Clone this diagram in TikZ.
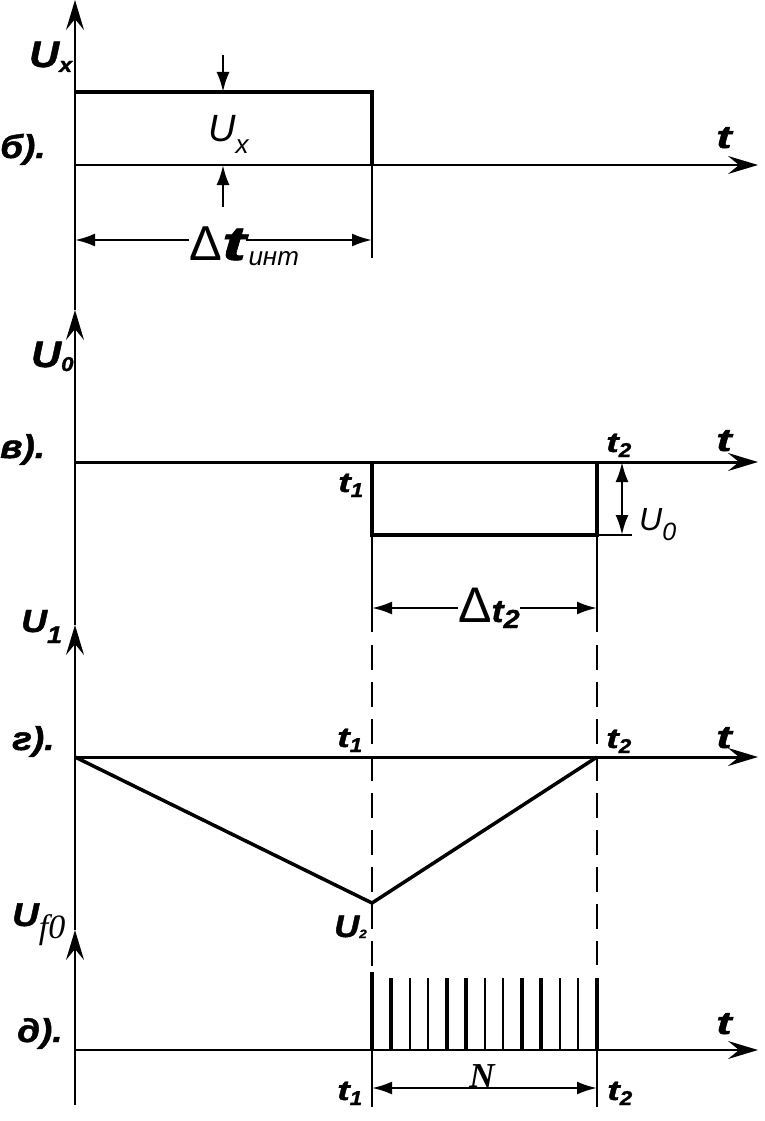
\documentclass[tikz,border=0pt]{standalone}
\usepackage{graphicx}
\usepackage{fontspec}
\setmainfont{Liberation Sans}
\newfontfamily\timesfont{Liberation Serif}
\newfontfamily\heavy[FakeBold=1.3,FakeStretch=1.12]{Liberation Sans Bold Italic}
\usetikzlibrary{arrows.meta}
\newcommand\fs[1]{\fontsize{#1}{#1}\selectfont}
\newcommand\lowsub[3]{\raisebox{-#1pt}{\fs{#2}#3}}
\newcommand\wt[1][1.3]{\scalebox{#1}[1]{t}}
\tikzset{
  axis/.style={line width=2pt, -{Stealth[length=30pt,width=18pt,inset=11pt]}},
  thinline/.style={line width=2pt},
  pulse/.style={line width=4pt, line join=miter},
  ramp/.style={line width=3.5pt},
  dimarrow/.style={line width=2.5pt, -{Latex[length=20pt,width=13pt]}},
  dimboth/.style={line width=2.5pt, {Latex[length=20pt,width=13pt]}-{Latex[length=20pt,width=13pt]}},
  guide/.style={line width=2pt, dash pattern=on 25pt off 12pt},
  lbl/.style={inner sep=0pt, anchor=base west, font=\heavy\fs{33}},
  tlbl/.style={inner sep=0pt, anchor=base west, font=\heavy\fs{28}},
  tax/.style={inner sep=0pt, anchor=base west, font=\heavy\fs{32}}
}
\begin{document}
\begin{tikzpicture}[x=1pt,y=-1pt]
\useasboundingbox (0,0) rectangle (764,1121);
% vertical axis, one line with four arrow heads
\draw[axis] (75,1105) -- (75,930);
\draw[axis] (75,930) -- (75,625);
\draw[axis] (75,625) -- (75,310);
\draw[axis] (75,310) -- (75,0);

% b) integration of U_x
\draw[axis] (75,165) -- (758,165);
\draw[pulse] (75,92) -- (372,92) -- (372,165);
\draw[thinline] (372,165) -- (372,258);
\draw[dimarrow] (223,55) -- (223,92);
\draw[dimarrow] (223,207) -- (223,165);
\node[lbl, font=\heavy\fs{37}] (ux) at (29,67) {U\lowsub{5}{21}{x}};
\node[lbl] (lb) at (0,158) {б).};
\node[lbl, font=\fs{38}\itshape] (uxmid) at (208,142) {U\lowsub{12}{26}{x}};
\node[tax] (tb) at (716,148) {\wt};
\node[inner sep=0pt, anchor=base west] (dti) at (189,260) {\fs{49}Δ\heavy\fs{48}\wt[1.35]};
\node[inner sep=0pt, anchor=base west] (inti) at ([xshift=2pt]dti.base east) {\lowsub{5}{26}{\itshape инт}};
\draw[dimarrow] (dti.west |- 0,240) -- (75,240);
\draw[dimarrow] (dti.east |- 0,240) -- (372,240);

% v) reference voltage
\draw[axis, line width=3pt] (75,462) -- (758,462);
\draw[pulse] (372,462) -- (372,535) -- (597,535) -- (597,462);
\draw[thinline] (597,535) -- (632,535);
\draw[dimboth] (622,462) -- (622,535);
\node[lbl, font=\heavy\fs{37}] (u0) at (31,367) {U\lowsub{4}{20}{0}};
\node[lbl] (lv) at (0,458) {в).};
\node[tlbl] (t1v) at (338,492) {\wt[1.2]\lowsub{5}{20}{1}};
\node[tlbl] (t2v) at (606,452) {\wt[1.2]\lowsub{5}{20}{2}};
\node[tax] (tv) at (716,451) {\wt};
\node[inner sep=0pt, anchor=base west, font=\fs{32}\itshape] (u0r) at (639,530) {U\lowsub{10}{25}{0}};
\draw[thinline] (372,535) -- (372,632);
\draw[thinline] (597,535) -- (597,632);
\node[inner sep=0pt, anchor=base west] (dt2) at (458,622) {\fs{50}Δ\heavy\fs{32}t\lowsub{6}{26}{2}};
\draw[dimarrow] (dt2.west |- 0,608) -- (372,608);
\draw[dimarrow] (dt2.east |- 0,608) -- (597,608);

% g) integrator output
\draw[axis, line width=3pt] (75,757) -- (758,757);
\draw[guide] (372,645) -- (372,975);
\draw[guide] (597,645) -- (597,965);
\draw[ramp, line join=round] (75,757) -- (372,903) -- (597,757);
\node[lbl, font=\heavy\fs{32}] (u1) at (21,632) {U\lowsub{11}{24}{1}};
\node[lbl] (lg) at (12,750) {г).};
\node[tlbl] (t1g) at (337,747) {\wt[1.2]\lowsub{5}{20}{1}};
\node[tlbl] (t2g) at (606,748) {\wt[1.2]\lowsub{5}{20}{2}};
\node[tax] (tg) at (716,748) {\wt};
\node[lbl, font=\heavy\fs{31}] (u2) at (334,937) {U\lowsub{1}{12}{2}};

% d) counted pulses
\draw[axis] (75,1050) -- (758,1050);
\foreach \i in {0,...,12}{
  \pgfmathtruncatemacro\m{mod(\i,4)}
  \ifnum\m<2
    \draw[line width=3.5pt] (372+\i*18.75,978) -- (372+\i*18.75,1050);
  \else
    \draw[line width=2pt] (372+\i*18.75,978) -- (372+\i*18.75,1050);
  \fi
}
\draw[line width=3.5pt] (372,972) -- (372,978);
\draw[thinline] (372,1050) -- (372,1107);
\draw[thinline] (597,1050) -- (597,1107);
\draw[dimboth] (372,1088) -- (597,1088);
\node[inner sep=0pt, anchor=base, font=\timesfont\fs{35}\bfseries\itshape] (n) at (482,1087) {N};
\node[lbl, font=\heavy\fs{33}] (uf) at (12,926) {U\lowsub{12}{34}{\timesfont\itshape f0}};
\node[lbl] (ld) at (17,1042) {д).};
\node[tax] (td) at (716,1034) {\wt};
\node[tlbl] (t1d) at (337,1100) {\wt[1.2]\lowsub{5}{20}{1}};
\node[tlbl] (t2d) at (607,1100) {\wt[1.2]\lowsub{5}{20}{2}};
\end{tikzpicture}
\end{document}
